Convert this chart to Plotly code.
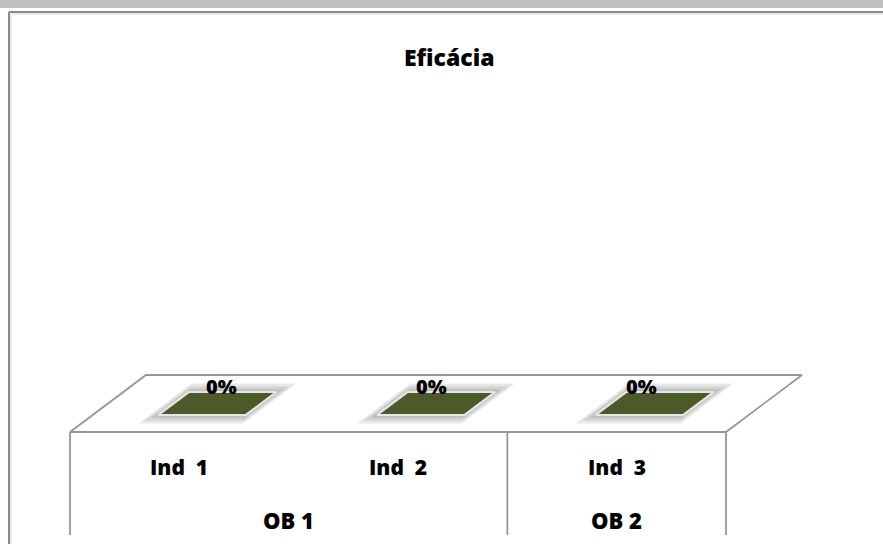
import plotly.graph_objects as go

# ---- data ----
categories = ["Ind  1", "Ind  2", "Ind  3"]
groups = ["OB 1", "OB 1", "OB 2"]
values = [0.0, 0.0, 0.0]
title_text = "Eficácia"

# ---- pseudo-3D projection setup ----
W, H = 883, 544
PX_CAT = 656 / 3          # pixels per category
PX_VAL = 250              # pixels per 100 %
ORIG_X, ORIG_Y = 70, 432  # front-left floor corner in pixels
DEPTH_PX = (76, 57)       # depth offset (right, up) in pixels
DX = DEPTH_PX[0] / PX_CAT
DY = DEPTH_PX[1] / PX_VAL
x_range = [-ORIG_X / PX_CAT, (W - ORIG_X) / PX_CAT]
y_range = [-(H - ORIG_Y) / PX_VAL, ORIG_Y / PX_VAL]

def P(c, z, v=0.0):
    return c + DX * z, v + DY * z

FONT = dict(family="Open Sans", color="black", weight=800)

n = len(categories)
fig = go.Figure()

# floor
fx, fy = zip(*[P(0, 0), P(n, 0), P(n, 1), P(0, 1), P(0, 0)])
fig.add_trace(go.Scatter(x=fx, y=fy, mode="lines", fill="toself", fillcolor="white",
                         line=dict(color="#969696", width=1.8), hoverinfo="skip", showlegend=False))

# vertical dividers at axis ends and group boundaries
bottom_y = -(535 - ORIG_Y) / PX_VAL
bounds = [0] + [i for i in range(1, n) if groups[i] != groups[i - 1]] + [n]
for b in bounds:
    fig.add_trace(go.Scatter(x=[b, b], y=[0, bottom_y], mode="lines",
                             line=dict(color="#969696", width=1.8), hoverinfo="skip", showlegend=False))

# bars (flat for zero values) with soft shadow
bw, z0, z1 = 0.4, 0.3, 0.7
for i, v in enumerate(values):
    cl, cr = i + 0.5 - bw / 2, i + 0.5 + bw / 2
    for k in (3, 2, 1):
        ec, ez = 0.013 * k, 0.05 * k
        pts = [P(cl - ec, z0 - ez, v), P(cr + ec, z0 - ez, v), P(cr + ec, z1 + ez, v),
               P(cl - ec, z1 + ez, v), P(cl - ec, z0 - ez, v)]
        sx, sy = zip(*pts)
        fig.add_trace(go.Scatter(x=sx, y=sy, mode="lines", fill="toself",
                                 fillcolor="rgba(60,60,60,0.12)", line=dict(width=0),
                                 hoverinfo="skip", showlegend=False))
    if v > 0:
        for face in ([P(cl, z0), P(cr, z0), P(cr, z0, v), P(cl, z0, v)],
                     [P(cr, z0), P(cr, z1), P(cr, z1, v), P(cr, z0, v)]):
            sx, sy = zip(*(face + [face[0]]))
            fig.add_trace(go.Scatter(x=sx, y=sy, mode="lines", fill="toself", fillcolor="#3c4820",
                                     line=dict(color="#d9d9d9", width=1.5), hoverinfo="skip", showlegend=False))
    top = [P(cl, z0, v), P(cr, z0, v), P(cr, z1, v), P(cl, z1, v), P(cl, z0, v)]
    tx, ty = zip(*top)
    fig.add_trace(go.Scatter(x=tx, y=ty, mode="lines", fill="toself", fillcolor="#4b5a28",
                             line=dict(color="#e6e6e6", width=2), hoverinfo="skip", showlegend=False))
    lx, ly = P(i + 0.5, 0.5, v)
    fig.add_annotation(x=lx + 0.02 - 0.04 * i, y=ly, text=f"{v:.0%}", showarrow=False, yshift=17,
                       font=dict(FONT, size=20))

# category labels
ind_y = -(467 - ORIG_Y) / PX_VAL
grp_y = -(520 - ORIG_Y) / PX_VAL
for i, c in enumerate(categories):
    fig.add_annotation(x=i + 0.5, y=ind_y, text=c, showarrow=False, font=dict(FONT, size=21))
for a, b in zip(bounds[:-1], bounds[1:]):
    fig.add_annotation(x=(a + b) / 2, y=grp_y, text=groups[a], showarrow=False, font=dict(FONT, size=22))

# title
fig.add_annotation(xref="paper", yref="paper", x=449 / W, y=1 - 57 / H, text=title_text,
                   xanchor="center", yanchor="middle", showarrow=False, font=dict(FONT, size=23))

# chart frame
fig.add_shape(type="rect", xref="paper", yref="paper", x0=0, x1=1, y0=1 - 8 / H, y1=1,
              fillcolor="#c0c0c0", line=dict(width=0), layer="below")
fig.add_shape(type="line", xref="paper", yref="paper", x0=9 / W, x1=1, y0=1 - 12 / H, y1=1 - 12 / H,
              line=dict(color="#8a8a8a", width=2))
fig.add_shape(type="line", xref="paper", yref="paper", x0=9 / W, x1=9 / W, y0=0, y1=1 - 12 / H,
              line=dict(color="#8a8a8a", width=2))
fig.add_shape(type="line", xref="paper", yref="paper", x0=11 / W, x1=1, y0=1 - 14 / H, y1=1 - 14 / H,
              line=dict(color="#d8d8d8", width=1))
fig.add_shape(type="line", xref="paper", yref="paper", x0=11 / W, x1=11 / W, y0=0, y1=1 - 14 / H,
              line=dict(color="#d8d8d8", width=1))

fig.update_layout(
    width=W, height=H, margin=dict(l=0, r=0, t=0, b=0),
    paper_bgcolor="white", plot_bgcolor="white",
    xaxis=dict(range=x_range, visible=False, fixedrange=True),
    yaxis=dict(range=y_range, visible=False, fixedrange=True),
    showlegend=False,
)
fig.write_html("out.html", config={"displayModeBar": False},
               post_script="document.body.style.margin='0';document.body.style.overflow='hidden';")
